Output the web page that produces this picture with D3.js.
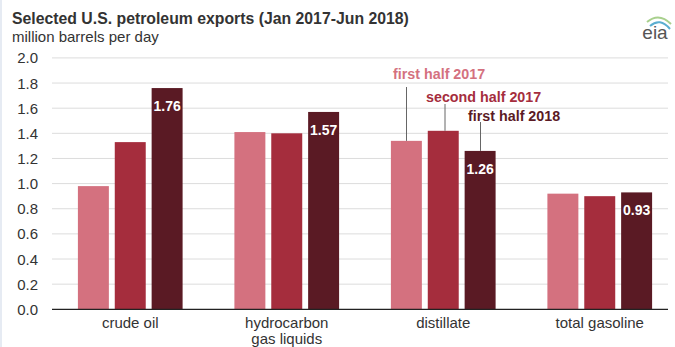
<!DOCTYPE html>
<html>
<head>
<script src="https://d3js.org/d3.v7.min.js"></script>
<style>
body { margin: 0; background: white; }
text { font-family: Arial, "Liberation Sans", sans-serif; }
</style>
</head>
<body>
<svg id="chart" width="675" height="347"></svg>
<script>
const categories = ["crude oil", "hydrocarbon|gas liquids", "distillate", "total gasoline"];
const series = ["first half 2017", "second half 2017", "first half 2018"];
const firstHalf2017 = [0.98, 1.41, 1.34, 0.92];
const secondHalf2017 = [1.33, 1.40, 1.42, 0.90];
const firstHalf2018 = [1.76, 1.57, 1.26, 0.93];
const yTicks = [0, 0.2, 0.4, 0.6, 0.8, 1.0, 1.2, 1.4, 1.6, 1.8, 2.0];
const colors = ["#d4717f", "#a52d3d", "#5a1a24"];

const values = [firstHalf2017, secondHalf2017, firstHalf2018];
const data = categories.map((c, i) => ({cat: c, vals: values.map(v => v[i])}));

const svg = d3.select("#chart");
const plotLeft = 52, plotRight = 668, plotTop = 57.9, plotBottom = 309.3;

// left frame strip
svg.append("rect").attr("x", 0).attr("y", 0).attr("width", 2).attr("height", 347).attr("fill", "#e6ebf3");

const y = d3.scaleLinear().domain([0, 2]).range([plotBottom, plotTop]);
const x0 = d3.scaleBand().domain(categories).range([plotLeft, 678]).paddingInner(0.331).paddingOuter(0.1655);
const x1 = d3.scaleBand().domain(series).range([0, x0.bandwidth()]).paddingInner(0.16);

// title
svg.append("text").attr("x", 12).attr("y", 24).attr("font-size", 15.8).attr("font-weight", "bold")
  .attr("fill", "#333").text("Selected U.S. petroleum exports (Jan 2017-Jun 2018)");
svg.append("text").attr("x", 12).attr("y", 42).attr("font-size", 15)
  .attr("fill", "#333").text("million barrels per day");

// eia logo
const logo = svg.append("g").attr("transform", "translate(656,30)");
logo.append("path").attr("d", "M-9,-8 Q3,-18 15,-6").attr("fill", "none").attr("stroke", "#a8d08d").attr("stroke-width", 2);
logo.append("path").attr("d", "M-6,-4 Q4,-13 14,-1").attr("fill", "none").attr("stroke", "#5aaed0").attr("stroke-width", 2);
logo.append("text").attr("x", -1).attr("y", 9).attr("text-anchor", "middle").attr("font-family", "Liberation Serif, serif")
  .attr("font-size", 19).attr("fill", "#555").text("eia");

// grid + y labels
svg.append("g").selectAll("line").data(yTicks.filter(t => t > 0)).join("line")
  .attr("x1", plotLeft).attr("x2", plotRight).attr("y1", d => y(d)).attr("y2", d => y(d))
  .attr("stroke", "#dcdcdc").attr("stroke-width", 1);
svg.append("g").selectAll("text").data(yTicks).join("text")
  .attr("x", 38).attr("y", d => y(d) + 5.5).attr("text-anchor", "end")
  .attr("font-size", 15).attr("fill", "#333").text(d => d.toFixed(1));

// bars
const groups = svg.append("g").selectAll("g").data(data).join("g")
  .attr("transform", d => `translate(${x0(d.cat)},0)`);
groups.selectAll("rect").data(d => d.vals.map((v, i) => ({s: series[i], v: v, i: i}))).join("rect")
  .attr("x", d => x1(d.s)).attr("width", x1.bandwidth())
  .attr("y", d => y(d.v)).attr("height", d => plotBottom - y(d.v))
  .attr("fill", d => colors[d.i]);
groups.append("text")
  .attr("x", x1(series[2]) + x1.bandwidth() / 2)
  .attr("y", d => y(d.vals[2]) + 23)
  .attr("text-anchor", "middle").attr("font-size", 14).attr("font-weight", "bold")
  .attr("fill", "white").text(d => d.vals[2].toFixed(2));

// baseline
svg.append("line").attr("x1", plotLeft).attr("x2", plotRight).attr("y1", plotBottom).attr("y2", plotBottom)
  .attr("stroke", "#222").attr("stroke-width", 1.3);

// category labels
svg.append("g").selectAll("text").data(categories).join("text")
  .attr("x", d => x0(d) + x0.bandwidth() / 2).attr("y", 328)
  .attr("text-anchor", "middle").attr("font-size", 15).attr("fill", "#333")
  .each(function(d) {
    const parts = d.split("|");
    d3.select(this).selectAll("tspan").data(parts).join("tspan")
      .attr("x", x0(d) + x0.bandwidth() / 2).attr("dy", (p, i) => i ? 16 : 0).text(p => p);
  });

// series annotations on distillate bars
const annY = [74, 97, 116];
const annX = [393, 426, 468];
const leadX = [406.5, 445, 480.5];
const leadTop = [87, 104, 122];
series.forEach((s, i) => {
  svg.append("line").attr("x1", leadX[i]).attr("x2", leadX[i])
    .attr("y1", leadTop[i]).attr("y2", y(values[i][2]))
    .attr("stroke", "#666").attr("stroke-width", 1);
  svg.append("text").attr("x", annX[i]).attr("y", annY[i] + 5)
    .attr("font-size", 14.3).attr("font-weight", "bold").attr("fill", colors[i]).text(s);
});
</script>
</body>
</html>
